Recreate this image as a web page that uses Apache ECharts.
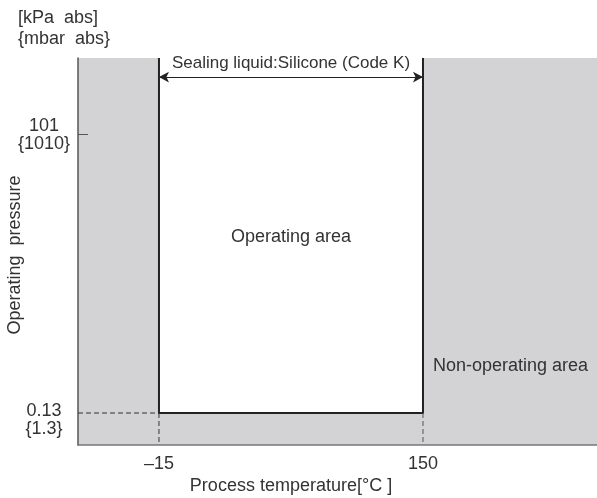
<!DOCTYPE html>
<html><head><meta charset="utf-8">
<script src="https://cdn.jsdelivr.net/npm/echarts@6/dist/echarts.min.js"></script>
<style>html,body{margin:0;padding:0;background:#fff}#c{width:597px;height:498px}</style>
</head><body><div id="c"></div>
<script>
// Data
const tempLimits = [-15, 150];            // process temperature limits [°C]
const tempLabels = ['–15', '150'];
const pressureLimits = [0.13, 101];       // operating pressure limits [kPa abs]
const pressureLabels = ['0.13\n{1.3}', '101\n{1010}'];
const sealingLabel = 'Sealing liquid:Silicone (Code K)';
const areaLabels = ['Operating area', 'Non-operating area'];

// Axis ranges
const xMin = -65.6, xMax = 258.75;
const yMin = 0.0606, yMax = 619;
const arrowLevel = 393;

const FONT = 'Liberation Sans, Arial, sans-serif';
const TXT = '#333';
const FS = 18;

const chart = echarts.init(document.getElementById('c'));
const findIndex = (v, vals) => {
  for (let i = 0; i < vals.length; i++) if (Math.abs(v - vals[i]) < 1e-6 * Math.max(1, Math.abs(vals[i]))) return i;
  return -1;
};

chart.setOption({
  animation: false,
  textStyle: { fontFamily: FONT },
  grid: { left: 78, top: 58, right: 0, bottom: 53, show: true, backgroundColor: '#d3d3d5', borderWidth: 0 },
  xAxis: {
    type: 'value', min: xMin, max: xMax,
    splitLine: { show: false },
    axisLine: { show: true, onZero: false, lineStyle: { color: '#777', width: 1.5 } },
    axisTick: { show: false },
    axisLabel: {
      customValues: tempLimits,
      formatter: v => { const i = findIndex(v, tempLimits); return i < 0 ? '' : tempLabels[i]; },
      color: TXT, fontSize: FS, fontFamily: FONT, margin: 10
    }
  },
  yAxis: {
    type: 'log', min: yMin, max: yMax, logBase: 10,
    splitLine: { show: false },
    axisLine: { show: true, onZero: false, lineStyle: { color: '#555', width: 1.5 } },
    axisTick: { show: true, inside: true, length: 10, customValues: [pressureLimits[1]], lineStyle: { color: '#555', width: 1 } },
    axisLabel: {
      customValues: pressureLimits,
      formatter: v => {
        const i = findIndex(v, pressureLimits);
        if (i < 0) return '';
        return (i === 0 ? '{sp| }\n' : '') + pressureLabels[i];
      },
      color: TXT, fontSize: FS, fontFamily: FONT, align: 'center', margin: 34, lineHeight: 18,
      padding: [2, 0, 0, 0],
      rich: { sp: { lineHeight: 12, fontSize: 6 } }
    }
  },
  series: [
    {
      type: 'line', name: 'boundary', symbol: 'none', z: 5,
      data: [[tempLimits[0], yMax], [tempLimits[0], pressureLimits[0]], [tempLimits[1], pressureLimits[0]], [tempLimits[1], yMax]],
      lineStyle: { color: '#222', width: 2 },
      markArea: {
        silent: true,
        itemStyle: { color: '#fff' },
        data: [[{ coord: [tempLimits[0], pressureLimits[0]] }, { coord: [tempLimits[1], yMax] }]]
      },
      markLine: {
        silent: true, symbol: ['arrow', 'arrow'], symbolSize: [8, 10],
        lineStyle: { color: '#222', width: 1.2, type: 'solid' },
        label: { show: true, position: 'middle', formatter: sealingLabel, color: TXT, fontSize: 17, fontFamily: FONT, distance: 5 },
        data: [[{ coord: [tempLimits[0], arrowLevel] }, { coord: [tempLimits[1], arrowLevel] }]]
      }
    },
    {
      type: 'line', symbol: 'none', z: 4,
      data: [[xMin, pressureLimits[0]], [tempLimits[0], pressureLimits[0]]],
      lineStyle: { color: '#333', width: 1, type: [5, 3] }
    },
    {
      type: 'line', symbol: 'none', z: 4,
      data: [[tempLimits[0], pressureLimits[0]], [tempLimits[0], yMin]],
      lineStyle: { color: '#333', width: 1, type: [5, 3] }
    },
    {
      type: 'line', symbol: 'none', z: 4,
      data: [[tempLimits[1], pressureLimits[0]], [tempLimits[1], yMin]],
      lineStyle: { color: '#555', width: 1, type: [5, 3] }
    }
  ],
  graphic: [
    { type: 'text', x: 18, y: 18, style: { text: '[kPa  abs]', font: FS + 'px ' + FONT, fill: TXT, verticalAlign: 'middle' } },
    { type: 'text', x: 18, y: 39, style: { text: '{mbar  abs}', font: FS + 'px ' + FONT, fill: TXT, verticalAlign: 'middle' } },
    { type: 'text', x: 15, y: 255, rotation: Math.PI / 2, style: { text: 'Operating  pressure', font: FS + 'px ' + FONT, fill: TXT, align: 'center', verticalAlign: 'middle' } },
    { type: 'text', x: 291, y: 486, style: { text: 'Process temperature[°C ]', font: FS + 'px ' + FONT, fill: TXT, align: 'center', verticalAlign: 'middle' } },
    { type: 'text', x: 291, y: 237, z: 10, style: { text: areaLabels[0], font: FS + 'px ' + FONT, fill: TXT, align: 'center', verticalAlign: 'middle' } },
    { type: 'text', x: 433, y: 366, z: 10, style: { text: areaLabels[1], font: FS + 'px ' + FONT, fill: TXT, align: 'left', verticalAlign: 'middle' } }
  ]
});
</script></body></html>
